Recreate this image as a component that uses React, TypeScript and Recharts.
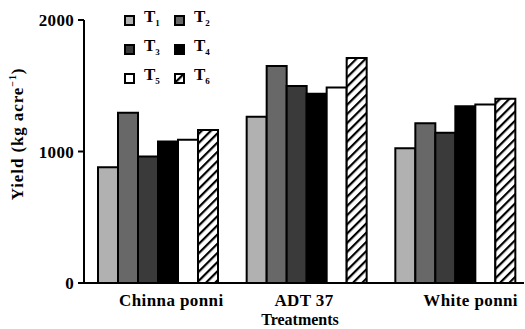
import React from "react";
import { BarChart, Bar, XAxis, YAxis } from "recharts";

const categories = ["Chinna ponni", "ADT 37", "White ponni"];
const t1 = [880, 1265, 1025];
const t2 = [1295, 1650, 1215];
const t3 = [962, 1498, 1142];
const t4 = [1076, 1440, 1344];
const t5 = [1089, 1486, 1357];
const t6 = [1164, 1711, 1402];
const yTicks = [0, 1000, 2000];

const seriesKeys = ["T1", "T2", "T3", "T4", "T5", "T6"];
const seriesValues = [t1, t2, t3, t4, t5, t6];
const seriesFills = ["#b1b1b1", "#686868", "#3a3a3a", "#000000", "#ffffff", "url(#hatch)"];

const data = categories.map((c, i) => {
  const row: Record<string, any> = { name: c };
  seriesKeys.forEach((k, j) => (row[k] = seriesValues[j][i]));
  return row;
});

const FONT = '"Liberation Serif", "Times New Roman", serif';
const labelShift = [12, -4, 14];

const XTick = (props: any) => {
  const { x, y, payload, index } = props;
  return (
    <text
      x={x + (labelShift[index] ?? 0)}
      y={y}
      dy={21}
      textAnchor="middle"
      fill="#000"
      fontFamily={FONT}
      fontWeight="bold"
      fontSize={17}
      letterSpacing={0.4}
    >
      {payload.value}
    </text>
  );
};

const LegendBox = () => (
  <div style={{ position: "absolute", left: 124, top: 10, width: 120, height: 90 }}>
    {seriesKeys.map((k, i) => {
      const col = i % 2;
      const row = Math.floor(i / 2);
      return (
        <div
          key={k}
          style={{
            position: "absolute",
            left: col * 50,
            top: row * 29,
            display: "flex",
            alignItems: "center",
            height: 20,
          }}
        >
          <svg width={11} height={11} style={{ display: "block" }}>
            <rect x={1} y={1} width={9} height={9} fill={seriesFills[i]} stroke="#000" strokeWidth={2} />
          </svg>
          <span
            style={{
              marginLeft: 9,
              fontFamily: FONT,
              fontWeight: "bold",
              fontSize: 17,
              color: "#000",
              lineHeight: "20px",
            }}
          >
            T<sub style={{ fontSize: 9, verticalAlign: "-4px" }}>{k.slice(1)}</sub>
          </span>
        </div>
      );
    })}
  </div>
);

export default function App() {
  return (
    <div style={{ position: "absolute", left: 0, top: 0, width: 525, height: 329, background: "#fff", overflow: "hidden" }}>
      <BarChart
        width={525}
        height={329}
        data={data}
        margin={{ top: 20, right: 1, left: 0, bottom: 0 }}
        barGap={0}
        barCategoryGap={13}
        style={{ overflow: "hidden" }}
      >
        <defs>
          <pattern id="hatch" width="6.5" height="6.5" patternUnits="userSpaceOnUse" patternTransform="rotate(45)">
            <rect width="6.5" height="6.5" fill="#fff" />
            <line x1="1" y1="0" x2="1" y2="6.5" stroke="#000" strokeWidth="2.4" />
          </pattern>
        </defs>
        <XAxis
          xAxisId="bounds"
          type="number"
          domain={[0, 3]}
          ticks={[1, 2]}
          height={0}
          axisLine={false}
          tick={false}
          tickLine={{ stroke: "#000", strokeWidth: 2 }}
          tickSize={4}
        />
        <XAxis
          dataKey="name"
          height={46}
          padding={{ left: 1, right: -7 }}
          axisLine={{ stroke: "#000", strokeWidth: 2 }}
          tickLine={false}
          tickSize={0}
          tick={<XTick />}
          interval={0}
          label={{
            value: "Treatments",
            position: "insideBottom",
            offset: 4,
            fill: "#000",
            fontFamily: FONT,
            fontSize: 16,
            fontWeight: "bold",
            dx: -4,
          }}
        />
        <YAxis
          width={84}
          domain={[0, 2000]}
          ticks={yTicks}
          interval={0}
          axisLine={{ stroke: "#000", strokeWidth: 2 }}
          tickLine={{ stroke: "#000", strokeWidth: 2 }}
          tickSize={6}
          tickMargin={4}
          tick={{ fill: "#000", fontFamily: FONT, fontWeight: "bold", fontSize: 17, letterSpacing: 0.3 }}
          label={{
            content: () => (
              <text
                transform="translate(23,134) rotate(-90)"
                textAnchor="middle"
                fill="#000"
                fontFamily={FONT}
                fontWeight="bold"
                fontSize={17}
                letterSpacing={0.9}
              >
                Yield (kg acre
                <tspan fontSize={10} dy={-7}>−1</tspan>
                <tspan dy={7}>)</tspan>
              </text>
            ),
          }}
        />
        {seriesKeys.map((k, i) => (
          <Bar
            key={k}
            dataKey={k}
            fill={seriesFills[i]}
            stroke="#000"
            strokeWidth={2}
            isAnimationActive={false}
          />
        ))}
      </BarChart>
      <LegendBox />
    </div>
  );
}
